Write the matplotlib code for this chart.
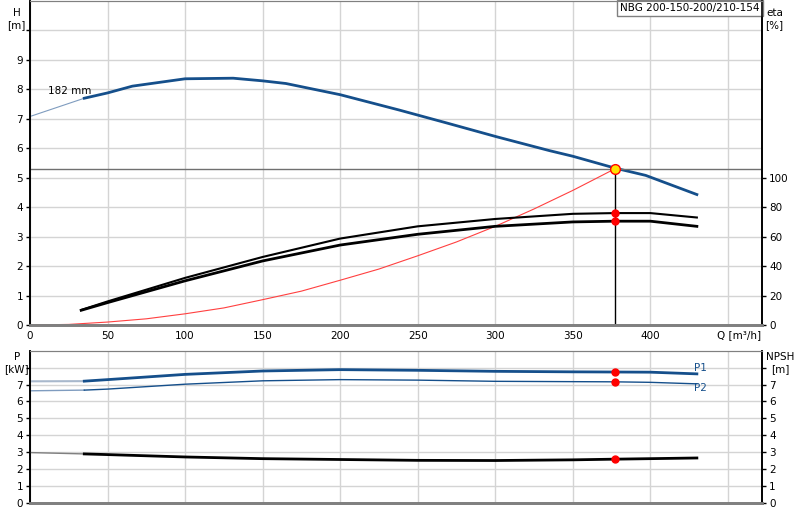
import matplotlib.pyplot as plt
import numpy as np

# head curve (182 mm), thin part before min flow
q_h_thin = [0, 35]
h_thin = [7.08, 7.7]
q_h = [35, 50, 66, 100, 131, 150, 165, 200, 238, 268, 301, 335, 350, 377, 397, 430]
h = [7.7, 7.88, 8.11, 8.36, 8.38, 8.29, 8.2, 7.82, 7.3, 6.87, 6.39, 5.92, 5.73, 5.33, 5.08, 4.43]

# efficiency curves [%]
q_eta = [33, 50, 100, 150, 200, 250, 300, 350, 377, 400, 430]
eta1 = [10.2, 16.0, 32.0, 46.2, 58.7, 67.0, 72.0, 75.5, 76.0, 76.0, 73.0]
eta2 = [10.0, 15.2, 30.0, 43.5, 54.3, 61.6, 67.0, 70.0, 70.5, 70.5, 67.0]

# system curve
q_sys = [0, 25, 50, 75, 100, 125, 150, 175, 200, 225, 250, 275, 300, 325, 350, 377]
h_sys = [0, 0.02, 0.1, 0.21, 0.38, 0.58, 0.86, 1.15, 1.52, 1.9, 2.35, 2.82, 3.35, 3.94, 4.57, 5.3]

# power and npsh
q_p = [0, 35, 50, 100, 150, 200, 250, 300, 350, 377, 400, 430]
p1 = [7.19, 7.2, 7.29, 7.6, 7.8, 7.88, 7.84, 7.78, 7.75, 7.74, 7.73, 7.63]
p2 = [6.63, 6.67, 6.73, 7.02, 7.22, 7.29, 7.26, 7.19, 7.17, 7.16, 7.13, 7.04]
npsh = [2.98, 2.9, 2.86, 2.72, 2.62, 2.57, 2.52, 2.51, 2.55, 2.59, 2.62, 2.66]

q_op = 377
h_op = 5.3

blue = '#154f8b'
lightblue = '#7f9cbf'
grid_c = '#d4d4d4'

fig = plt.figure(figsize=(8, 5.2), dpi=100)
ax = fig.add_axes([0.0375, 0.375, 0.915, 0.623])
ax2 = ax.twinx()
axb = fig.add_axes([0.0375, 0.0327, 0.915, 0.2929])
axb2 = axb.twinx()

# top chart
ax.set_xlim(0, 472)
ax.set_ylim(0, 11)
ax2.set_ylim(0, 220)
ax.set_xticks(np.arange(0, 451, 50))
ax.set_xticklabels(['0', '50', '100', '150', '200', '250', '300', '350', '400', ''])
ax.set_yticks(np.arange(0, 11, 1))
ax.set_yticklabels([str(i) for i in range(10)] + [''])
ax2.set_yticks(np.arange(0, 101, 20))
ax.grid(True, color=grid_c, lw=1)
ax.set_axisbelow(True)

ax.plot(q_h_thin, h_thin, color=lightblue, lw=0.8)
ax.plot(q_h, h, color=blue, lw=2)
ax.text(11.5, 7.95, '182 mm', fontsize=7.5, va='center')
ax.plot(q_sys, h_sys, color='#ff4040', lw=0.8)
ax.axhline(h_op, color='#707070', lw=1)
ax.plot([q_op, q_op], [0, h_op], color='black', lw=1)
ax2.plot(q_eta, eta1, color='black', lw=1.5)
ax2.plot(q_eta, eta2, color='black', lw=2)
ax2.plot([q_op, q_op], [76.0, 70.5], 'o', color='red', ms=5)
ax.plot(q_op, h_op, 'o', mfc='#ffe000', mec='red', ms=7, mew=1, zorder=5)

ax.text(0.997, 0.995, 'NBG 200-150-200/210-154', transform=ax.transAxes, ha='right', va='top',
        fontsize=7.5, bbox=dict(boxstyle='square,pad=0.3', fc='white', ec='#808080', lw=1))
ax.text(457, -0.17, 'Q [m³/h]', ha='center', va='top', fontsize=7.5)
fig.text(0.021, 0.985, 'H\n[m]', ha='center', va='top', fontsize=7.5, linespacing=1.3)
fig.text(0.968, 0.985, 'eta\n[%]', ha='center', va='top', fontsize=7.5, linespacing=1.3)

# bottom chart
axb.set_xlim(0, 472)
axb.set_ylim(0, 9)
axb2.set_ylim(0, 9)
axb.set_xticks(np.arange(0, 451, 50))
axb.set_xticklabels([])
axb.set_yticks(np.arange(0, 9, 1))
axb.set_yticklabels([str(i) for i in range(8)] + [''])
axb2.set_yticks(np.arange(0, 9, 1))
axb2.set_yticklabels([str(i) for i in range(8)] + [''])
axb.grid(True, color=grid_c, lw=1)
axb.set_axisbelow(True)

axb.plot(q_p[:2], p1[:2], color='#a8b8cc', lw=1.5)
axb.plot(q_p[1:], p1[1:], color=blue, lw=2)
axb.plot(q_p[:2], p2[:2], color=lightblue, lw=1)
axb.plot(q_p[1:], p2[1:], color=blue, lw=1)
axb2.plot(q_p[:2], npsh[:2], color='#808080', lw=1)
axb2.plot(q_p[1:], npsh[1:], color='black', lw=2)
axb.plot([q_op, q_op], [7.74, 7.16], 'o', color='red', ms=5)
axb2.plot(q_op, 2.59, 'o', color='red', ms=5)
axb.text(428, 7.95, 'P1', color=blue, fontsize=7.5, va='center')
axb.text(428, 6.8, 'P2', color=blue, fontsize=7.5, va='center')
fig.text(0.021, 0.323, 'P\n[kW]', ha='center', va='top', fontsize=7.5, linespacing=1.3)
fig.text(0.975, 0.323, 'NPSH\n[m]', ha='center', va='top', fontsize=7.5, linespacing=1.3)

for a in [ax, ax2, axb, axb2]:
    a.tick_params(labelsize=7.5, length=3, width=1, pad=2)
    a.tick_params(axis='x', length=0, pad=4)
    a.spines['left'].set_linewidth(1.2)
    a.spines['right'].set_linewidth(1.2)
    a.spines['top'].set_color('#808080')
    a.spines['bottom'].set_color('#808080')
    a.spines['bottom'].set_linewidth(2)

fig.savefig('out.png', dpi=100)
